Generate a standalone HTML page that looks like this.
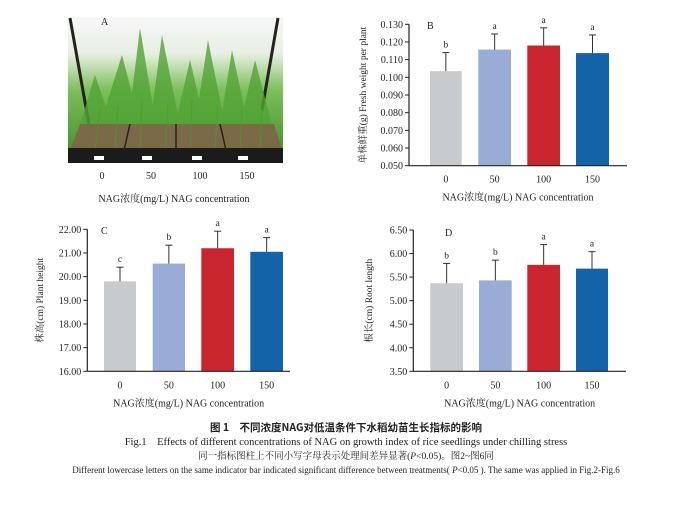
<!DOCTYPE html>
<html><head><meta charset="utf-8"><style>
body{margin:0;background:#fff;width:693px;height:506px;overflow:hidden}
svg{display:block}
text{font-family:"Liberation Serif","Noto Serif CJK SC",serif;fill:#222}
</style></head><body>
<svg id="s" width="693" height="506" xmlns="http://www.w3.org/2000/svg">
<defs>
<linearGradient id="g" x1="0" y1="0" x2="0" y2="1"><stop offset="0" stop-color="#f6f7f6"/><stop offset="0.25" stop-color="#e8efe2"/><stop offset="0.5" stop-color="#7cbf5a"/><stop offset="1" stop-color="#3f8a2a"/></linearGradient>
</defs>
<!-- Photo A -->
<rect x="68" y="17" width="215" height="146" fill="url(#g)"/>
<path d="M70 18 L90 130 M278 18 L262 110" stroke="#222" stroke-width="3"/>
<g fill="#52a436" opacity="0.8">
<polygon points="80,125 95,75 112,125"/><polygon points="100,125 122,55 140,125"/><polygon points="128,125 140,28 156,125"/><polygon points="150,125 162,35 180,125"/><polygon points="175,125 190,60 205,125"/><polygon points="195,125 208,40 225,125"/><polygon points="220,125 232,50 248,125"/><polygon points="240,125 255,60 272,125"/>
</g>
<polygon points="80,124 274,124 282,150 70,150" fill="#7a6a48"/>
<g stroke="#4a9a30" stroke-width="1" opacity="0.7">
<path d="M95 150 L100 110 M115 150 L118 105 M140 150 L142 100 M165 150 L168 105 M190 150 L192 100 M215 150 L218 105 M240 150 L242 110 M260 150 L262 110"/>
</g>
<rect x="68" y="148" width="215" height="15" fill="#1b1b1b"/>
<path d="M130 124 L124 150 M176 124 L176 150 M220 124 L226 150" stroke="#222" stroke-width="1.5"/>
<rect x="94" y="156" width="10" height="4" fill="#fff"/><rect x="142" y="156" width="10" height="4" fill="#fff"/><rect x="192" y="156" width="10" height="4" fill="#fff"/><rect x="238" y="156" width="10" height="4" fill="#fff"/>
<text x="101" y="25" font-size="10">A</text>
<g font-size="10" text-anchor="middle"><text x="102" y="179">0</text><text x="151" y="179">50</text><text x="200" y="179">100</text><text x="247" y="179">150</text></g>
<text x="174" y="202" font-size="10" text-anchor="middle">NAG浓度(mg/L) NAG concentration</text>
<g id="charts"></g>
<!-- captions -->
<text x="346" y="431" font-size="10.5" text-anchor="middle" font-weight="bold" style="font-family:'Noto Sans CJK SC',sans-serif">图 1　不同浓度NAG对低温条件下水稻幼苗生长指标的影响</text>
<text x="346" y="445" font-size="10.5" text-anchor="middle">Fig.1　Effects of different concentrations of NAG on growth index of rice seedlings under chilling stress</text>
<text x="346" y="459" font-size="9.5" text-anchor="middle">同一指标图柱上不同小写字母表示处理间差异显著(<tspan font-style="italic">P</tspan>&lt;0.05)。图2~图6同</text>
<text x="346" y="473" font-size="9" text-anchor="middle">Different lowercase letters on the same indicator bar indicated significant difference between treatments( <tspan font-style="italic">P</tspan>&lt;0.05 ). The same was applied in Fig.2-Fig.6</text>
</svg>
<script>
const NS="http://www.w3.org/2000/svg",G=document.getElementById('charts');
function el(t,a,txt){const e=document.createElementNS(NS,t);for(const k in a)e.setAttribute(k,a[k]);if(txt!=null)e.textContent=txt;G.appendChild(e);return e;}
const cols=["#c8cbcd","#98acd6","#c9252f","#1363a8"];
function chart(o){
 const {ax,top,bot,right,min,max,step,dec,bars,vals,errs,lets,label,lx,tag}=o;
 const y=v=>bot-(v-min)/(max-min)*(bot-top);
 for(let i=0;i<4;i++){
  const [x0,x1]=bars[i],cx=(x0+x1)/2;
  el('rect',{x:x0,y:y(vals[i]),width:x1-x0,height:bot-y(vals[i]),fill:cols[i]});
  el('line',{x1:cx,x2:cx,y1:y(vals[i]),y2:y(errs[i]),stroke:'#333','stroke-width':1});
  el('line',{x1:cx-3.5,x2:cx+3.5,y1:y(errs[i]),y2:y(errs[i]),stroke:'#333','stroke-width':1});
  el('text',{x:cx,y:y(errs[i])-5,'font-size':9.5,'text-anchor':'middle'},lets[i]);
  el('text',{x:cx,y:bot+17,'font-size':10,'text-anchor':'middle'},['0','50','100','150'][i]);
 }
 el('line',{x1:ax,x2:ax,y1:top,y2:bot,stroke:'#222','stroke-width':1.2});
 el('line',{x1:ax,x2:right,y1:bot,y2:bot,stroke:'#222','stroke-width':1.2});
 for(let v=min;v<=max+1e-9;v+=step){
  const yy=y(v);
  el('line',{x1:ax-4,x2:ax,y1:yy,y2:yy,stroke:'#222','stroke-width':1});
  el('text',{x:ax-6,y:yy+3.5,'font-size':10,'text-anchor':'end'},v.toFixed(dec));
 }
 el('text',{x:(ax+right)/2,y:bot+35,'font-size':10,'text-anchor':'middle'},'NAG浓度(mg/L) NAG concentration');
 el('text',{x:lx,y:(top+bot)/2,'font-size':9.5,'text-anchor':'middle',transform:`rotate(-90 ${lx} ${(top+bot)/2})`},label);
 el('text',{x:tag[0],y:tag[1],'font-size':10},tag[2]);
}
chart({ax:409,top:24.3,bot:165.7,right:627,min:0.05,max:0.13,step:0.01,dec:3,
 bars:[[430,461.7],[478.3,511],[527.3,560],[576,609]],vals:[0.1035,0.1157,0.118,0.1137],errs:[0.114,0.1245,0.128,0.124],lets:['b','a','a','a'],
 label:'单株鲜重(g) Fresh weight per plant',lx:366,tag:[427,29,'B']});
chart({ax:87.3,top:229.3,bot:371.3,right:290,min:16,max:22,step:1,dec:2,
 bars:[[104,136],[152.7,185],[201.3,234],[250.3,283]],vals:[19.8,20.55,21.2,21.05],errs:[20.4,21.33,21.92,21.65],lets:['c','b','a','a'],
 label:'株高(cm) Plant height',lx:43,tag:[101,234,'C']});
chart({ax:413.3,top:230,bot:371.3,right:626,min:3.5,max:6.5,step:0.5,dec:2,
 bars:[[430.3,463],[479,511.7],[527.3,560],[576,608]],vals:[5.37,5.43,5.76,5.68],errs:[5.79,5.86,6.19,6.04],lets:['b','b','a','a'],
 label:'根长(cm) Root length',lx:372,tag:[445,236,'D']});
</script>
</body></html>
